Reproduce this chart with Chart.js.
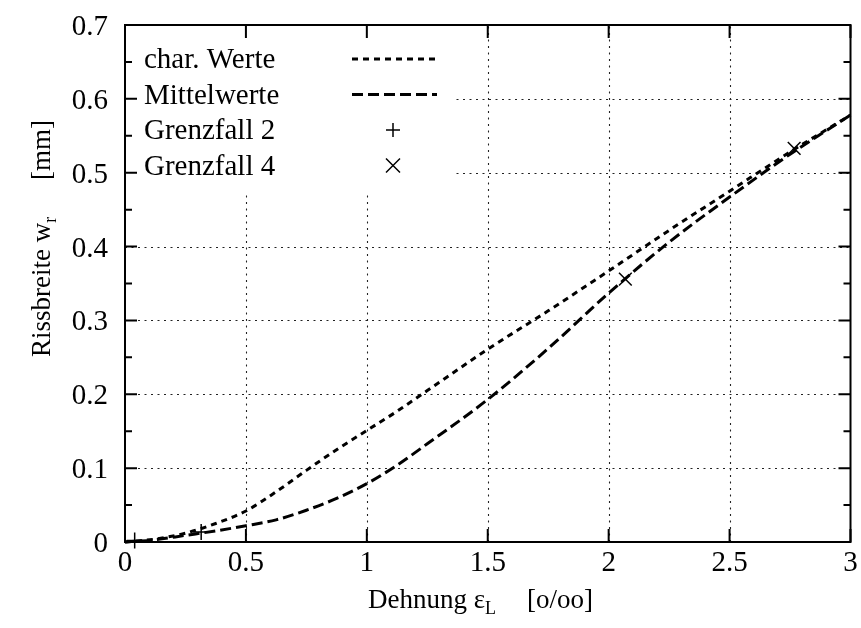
<!DOCTYPE html>
<html><head><meta charset="utf-8">
<script src="https://cdn.jsdelivr.net/npm/chart.js@4/dist/chart.umd.min.js"></script>
<style>html,body{margin:0;padding:0;background:#fff}</style>
</head><body>
<canvas id="c" width="861" height="628"></canvas>
<script>
// ---- data ----
const strain      = [0, 0.125, 0.25, 0.375, 0.5, 0.625, 0.75, 0.875, 1.0, 1.125, 1.25, 1.5, 1.75, 2.0, 2.25, 2.5, 2.75, 3.0];
const charValues  = [0, 0.004, 0.012, 0.025, 0.042, 0.068, 0.097, 0.125, 0.151, 0.177, 0.205, 0.261, 0.313, 0.367, 0.422, 0.475, 0.528, 0.578];
const meanValues  = [0, 0.003, 0.009, 0.015, 0.022, 0.030, 0.043, 0.059, 0.079, 0.104, 0.133, 0.193, 0.262, 0.337, 0.406, 0.467, 0.525, 0.578];
const gf2X = [0.04, 0.315];
const gf2Y = [0.002, 0.0135];
const gf4X = [2.069, 2.767];
const gf4Y = [0.356, 0.533];
const xTickLabels = ['0', '0.5', '1', '1.5', '2', '2.5', '3'];
const yTickLabels = ['0', '0.1', '0.2', '0.3', '0.4', '0.5', '0.6', '0.7'];
const seriesNames = ['char. Werte', 'Mittelwerte', 'Grenzfall 2', 'Grenzfall 4'];

const FONT = '"Liberation Serif", "Times New Roman", serif';
const pts = (xs, ys) => xs.map((x, i) => ({x: x, y: ys[i]}));

const paperPlugin = {
  id: 'paper',
  beforeDatasetsDraw(chart) {
    const {ctx, chartArea: a, scales: {x, y}} = chart;
    const legRight = 452, legBottom = 195;
    ctx.save();
    ctx.beginPath();
    ctx.rect(a.left, a.top, a.right - a.left, a.bottom - a.top);
    ctx.rect(a.left, a.top, legRight - a.left, legBottom - a.top);
    ctx.clip('evenodd');
    ctx.strokeStyle = '#222';
    ctx.lineWidth = 1.1;
    ctx.setLineDash([2, 4.5]);
    x.ticks.forEach(t => {
      const px = Math.round(x.getPixelForValue(t.value)) + 0.5;
      if (px <= a.left + 2 || px >= a.right - 2) return;
      ctx.beginPath(); ctx.moveTo(px, a.bottom); ctx.lineTo(px, a.top); ctx.stroke();
    });
    y.ticks.forEach(t => {
      const py = Math.round(y.getPixelForValue(t.value)) + 0.5;
      if (py <= a.top + 2 || py >= a.bottom - 2) return;
      ctx.beginPath(); ctx.moveTo(a.left, py); ctx.lineTo(a.right, py); ctx.stroke();
    });
    ctx.restore();
  },
  afterDatasetsDraw(chart) {
    const {ctx, chartArea: a, scales: {x, y}} = chart;
    ctx.save();
    ctx.strokeStyle = '#000';
    ctx.setLineDash([]);
    ctx.lineWidth = 2;
    ctx.strokeRect(a.left, a.top, a.right - a.left, a.bottom - a.top);
    x.ticks.forEach(t => {
      const px = x.getPixelForValue(t.value);
      ctx.beginPath();
      ctx.moveTo(px, a.bottom); ctx.lineTo(px, a.bottom - 13);
      ctx.moveTo(px, a.top); ctx.lineTo(px, a.top + 13);
      ctx.stroke();
    });
    const yt = y.ticks.map(t => t.value);
    yt.forEach((v, i) => {
      const py = y.getPixelForValue(v);
      ctx.beginPath();
      ctx.moveTo(a.left, py); ctx.lineTo(a.left + 12, py);
      ctx.moveTo(a.right, py); ctx.lineTo(a.right - 12, py);
      ctx.stroke();
      if (i < yt.length - 1) {
        const pm = y.getPixelForValue((v + yt[i + 1]) / 2);
        ctx.beginPath();
        ctx.moveTo(a.left, pm); ctx.lineTo(a.left + 7, pm);
        ctx.moveTo(a.right, pm); ctx.lineTo(a.right - 7, pm);
        ctx.stroke();
      }
    });
    ctx.restore();
  },
  afterDraw(chart) {
    const {ctx, chartArea: a, scales: {x, y}} = chart;
    ctx.save();
    ctx.fillStyle = '#000';
    ctx.strokeStyle = '#000';
    // tick labels
    ctx.font = '29px ' + FONT;
    ctx.textAlign = 'center';
    ctx.textBaseline = 'alphabetic';
    x.ticks.forEach((t, i) => {
      ctx.fillText(xTickLabels[i], x.getPixelForValue(t.value), 571);
    });
    ctx.textAlign = 'right';
    y.ticks.forEach((t, i) => {
      ctx.fillText(yTickLabels[i], a.left - 17, y.getPixelForValue(t.value) + 10);
    });
    // legend
    const textX = 144, sampleL = 352, sampleR = 437, markX = 393;
    chart.data.datasets.forEach((ds, i) => {
      const base = 68 + i * 35.5;
      ctx.font = '29px ' + FONT;
      ctx.textAlign = 'left';
      ctx.textBaseline = 'alphabetic';
      ctx.fillText(ds.label, textX, base);
      const cy = base - 9;
      if (ds.showLine) {
        ctx.setLineDash(ds.borderDash);
        ctx.lineWidth = ds.borderWidth;
        ctx.beginPath(); ctx.moveTo(sampleL, cy); ctx.lineTo(sampleR, cy); ctx.stroke();
        ctx.setLineDash([]);
      } else {
        ctx.lineWidth = 1.5;
        ctx.beginPath();
        if (ds.pointStyle === 'cross') {
          ctx.moveTo(markX - 7, cy); ctx.lineTo(markX + 7, cy);
          ctx.moveTo(markX, cy - 7); ctx.lineTo(markX, cy + 7);
        } else {
          ctx.moveTo(markX - 7, cy - 7); ctx.lineTo(markX + 7, cy + 7);
          ctx.moveTo(markX - 7, cy + 7); ctx.lineTo(markX + 7, cy - 7);
        }
        ctx.stroke();
      }
    });
    // x title
    ctx.font = '27px ' + FONT;
    ctx.textAlign = 'left';
    let xx = 368;
    const xb = 608;
    ctx.fillText('Dehnung ', xx, xb);
    xx += ctx.measureText('Dehnung ').width;
    ctx.fillText('\u03B5', xx, xb);
    xx += ctx.measureText('\u03B5').width;
    ctx.font = '18px ' + FONT;
    ctx.fillText('L', xx, xb + 6);
    ctx.font = '27px ' + FONT;
    ctx.fillText('[o/oo]', 527, xb);
    // y title
    ctx.translate(50, 357);
    ctx.rotate(-Math.PI / 2);
    ctx.fillText('Rissbreite w', 0, 0);
    const yx = ctx.measureText('Rissbreite w').width;
    ctx.font = '18px ' + FONT;
    ctx.fillText('r', yx, 6);
    ctx.font = '27px ' + FONT;
    ctx.textAlign = 'right';
    ctx.fillText('[mm]', 237, 0);
    ctx.restore();
  }
};

new Chart(document.getElementById('c'), {
  type: 'scatter',
  data: {
    datasets: [
      { label: seriesNames[0], data: pts(strain, charValues), showLine: true,
        borderColor: '#000', borderWidth: 3, borderDash: [6, 5], pointRadius: 0,
        cubicInterpolationMode: 'monotone', fill: false },
      { label: seriesNames[1], data: pts(strain, meanValues), showLine: true,
        borderColor: '#000', borderWidth: 3, borderDash: [11, 5], pointRadius: 0,
        cubicInterpolationMode: 'monotone', fill: false },
      { label: seriesNames[2], data: pts(gf2X, gf2Y), showLine: false,
        pointStyle: 'cross', pointRadius: 8, borderColor: '#000', backgroundColor: '#000', borderWidth: 1.5 },
      { label: seriesNames[3], data: pts(gf4X, gf4Y), showLine: false,
        pointStyle: 'crossRot', pointRadius: 9, borderColor: '#000', backgroundColor: '#000', borderWidth: 1.5 }
    ]
  },
  options: {
    responsive: false,
    animation: false,
    devicePixelRatio: 1,
    clip: false,
    layout: { padding: { top: 25, right: 6, left: 0, bottom: 0 } },
    plugins: { legend: { display: false }, tooltip: { enabled: false }, title: { display: false } },
    scales: {
      x: {
        type: 'linear', min: 0, max: 3,
        afterFit: s => { s.height = 86; },
        ticks: { display: false, stepSize: 0.5, autoSkip: false },
        grid: { display: false, drawTicks: false },
        border: { display: false }
      },
      y: {
        type: 'linear', min: 0, max: 0.7,
        afterFit: s => { s.width = 125; },
        ticks: { display: false, stepSize: 0.1, autoSkip: false },
        grid: { display: false, drawTicks: false },
        border: { display: false }
      }
    }
  },
  plugins: [paperPlugin]
});
</script>
</body></html>
